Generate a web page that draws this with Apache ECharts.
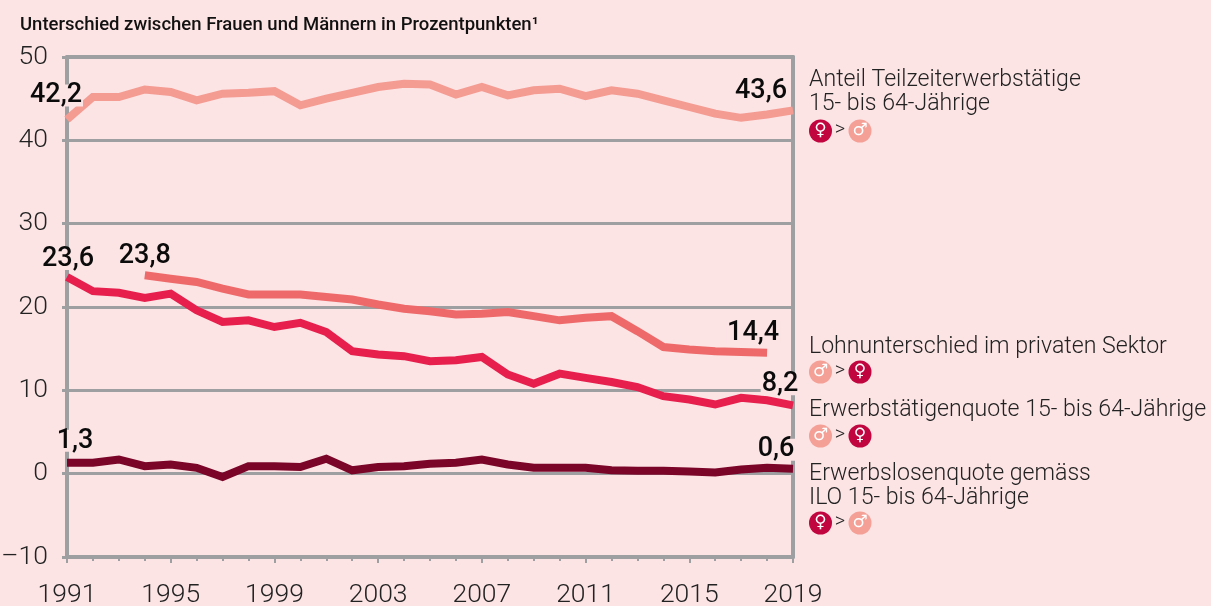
<!DOCTYPE html>
<html>
<head>
<meta charset="utf-8">
<title>Unterschied zwischen Frauen und Männern</title>
<script src="https://cdn.jsdelivr.net/npm/echarts@6/dist/echarts.min.js"></script>
<style>
    html, body { margin: 0; padding: 0; background: #fce3e4; }
    #container { width: 1211px; height: 606px; }
</style>
</head>
<body>
<div id="container"></div>
<script>
const years = ['1991','1992','1993','1994','1995','1996','1997','1998','1999','2000','2001','2002','2003','2004','2005','2006','2007','2008','2009','2010','2011','2012','2013','2014','2015','2016','2017','2018','2019'];

const teilzeit = [42.5,45.2,45.2,46.1,45.8,44.8,45.6,45.7,45.9,44.2,45.0,45.7,46.4,46.8,46.7,45.5,46.4,45.4,46.0,46.2,45.3,46.0,45.6,44.8,44.0,43.2,42.7,43.1,43.6];
const lohn = [null,null,null,23.8,23.4,23.0,22.2,21.5,21.5,21.5,21.2,20.9,20.3,19.8,19.5,19.1,19.2,19.4,18.9,18.4,18.7,18.9,17.1,15.2,14.9,14.7,14.6,14.5,null];
const erwerbstaetig = [23.6,21.9,21.7,21.1,21.6,19.6,18.2,18.4,17.6,18.1,17.0,14.7,14.3,14.1,13.5,13.6,14.0,11.9,10.8,12.0,11.5,11.0,10.4,9.3,8.9,8.3,9.1,8.8,8.2];
const erwerbslos = [1.3,1.3,1.7,0.9,1.1,0.7,-0.4,0.9,0.9,0.8,1.8,0.4,0.8,0.9,1.2,1.3,1.7,1.1,0.7,0.7,0.7,0.4,0.35,0.35,0.25,0.15,0.5,0.7,0.6];

const grey = '#9d9fa1';
const female = '#c1053f';
const male = '#f4a097';
const font = 'Roboto';

// value labels: [year index, text, dx, dy]
const teilzeitLabels = [[0, '42,2', -11, -24], [28, '43,6', -32, -19]];
const lohnLabels = [[3, '23,8', 0, -19], [27, '14,4', -14, -20]];
const erwerbstaetigLabels = [[0, '23,6', 1, -18], [28, '8,2', -13, -21]];
const erwerbslosLabels = [[0, '1,3', 8, -22], [28, '0,6', -17, -19]];

function points(values, labels) {
    return values.map((v, i) => {
        const l = labels.find(d => d[0] === i);
        if (!l) return v;
        return {
            value: v,
            label: {
                show: true,
                position: 'inside',
                formatter: l[1],
                offset: [l[2], l[3]],
                fontFamily: font,
                fontWeight: 500,
                fontSize: 27,
                lineHeight: 22,
                color: '#0b0b0b',
                backgroundColor: '#fce3e4',
                padding: [0, 1, 0, 1],
            },
        };
    });
}

function line(name, values, labels, color) {
    return {
        name: name,
        type: 'line',
        data: points(values, labels),
        symbol: 'circle',
        symbolSize: 0,
        showSymbol: true,
        showAllSymbol: true,
        connectNulls: false,
        silent: true,
        lineStyle: { color: color, width: 8, cap: 'butt', join: 'miter' },
        itemStyle: { color: color },
    };
}

function textLine(str, y) {
    return {
        type: 'text',
        left: 809,
        top: y - 12,
        style: { text: str, fontFamily: font, fontWeight: 300, fontSize: 23.1, lineHeight: 26, fill: '#222' },
    };
}

function badge(cx, cy, isFemale) {
    return [
        { type: 'circle', shape: { cx: cx, cy: cy, r: 11.5 }, style: { fill: isFemale ? female : male } },
        {
            type: 'text',
            x: cx,
            y: cy,
            style: {
                text: isFemale ? '♀' : '♂',
                fontFamily: 'DejaVu Sans',
                fontSize: 17,
                fill: '#fff',
                align: 'center',
                verticalAlign: 'middle',
            },
        },
    ];
}

function badgeRow(cy, femaleFirst) {
    return [
        ...badge(820.5, cy, femaleFirst),
        {
            type: 'text',
            x: 840,
            y: cy - 1,
            style: { text: '>', fontFamily: font, fontWeight: 300, fontSize: 20, fill: '#222', align: 'center', verticalAlign: 'middle' },
        },
        ...badge(860, cy, !femaleFirst),
    ];
}

const myChart = echarts.init(document.getElementById('container'));
const option = {
    backgroundColor: '#fce3e4',
    animation: false,
    title: {
        text: 'Unterschied zwischen Frauen und Männern in Prozentpunkten¹',
        left: 20,
        top: 16,
        padding: 0,
        textStyle: { fontFamily: font, fontWeight: 500, fontSize: 18.5, color: '#111' },
    },
    grid: { left: 67, right: 418, top: 57, height: 500, outerBoundsMode: 'none' },
    xAxis: [
        {
            type: 'category',
            data: years,
            boundaryGap: false,
            axisLine: { onZero: false, lineStyle: { color: grey, width: 4 } },
            axisTick: { interval: 3, length: 6, lineStyle: { color: grey, width: 2 } },
            axisLabel: {
                interval: 3,
                margin: 25,
                fontFamily: font,
                fontWeight: 300,
                fontSize: 26.5,
                color: '#222',
                hideOverlap: false,
            },
        },
        {
            type: 'category',
            data: years,
            boundaryGap: false,
            position: 'bottom',
            axisLine: { show: false, onZero: false },
            axisTick: { interval: 0, length: 4, lineStyle: { color: grey, width: 2 } },
            axisLabel: { show: false },
        },
        {
            type: 'category',
            data: years,
            boundaryGap: false,
            position: 'top',
            axisLine: { onZero: false, lineStyle: { color: grey, width: 4 } },
            axisTick: { show: false },
            axisLabel: { show: false },
        },
    ],
    yAxis: [
        {
            type: 'value',
            min: -10,
            max: 50,
            interval: 10,
            axisLine: { show: true, onZero: false, lineStyle: { color: grey, width: 4 } },
            axisTick: { show: true, length: 5, lineStyle: { color: grey, width: 3 } },
            axisLabel: {
                margin: 19,
                padding: [5, 0, 0, 0],
                fontFamily: font,
                fontWeight: 300,
                fontSize: 26.5,
                color: '#222',
                formatter: v => String(v).replace('-', '–'),
            },
            splitLine: { lineStyle: { color: grey, width: 3 } },
        },
        {
            type: 'value',
            min: -10,
            max: 50,
            interval: 10,
            position: 'right',
            axisLine: { show: true, onZero: false, lineStyle: { color: grey, width: 4 } },
            axisTick: { show: false },
            axisLabel: { show: false },
            splitLine: { show: false },
        },
    ],
    series: [
        line('Anteil Teilzeiterwerbstätige', teilzeit, teilzeitLabels, '#f49b92'),
        line('Lohnunterschied im privaten Sektor', lohn, lohnLabels, '#ee6a6a'),
        line('Erwerbstätigenquote', erwerbstaetig, erwerbstaetigLabels, '#e61f4d'),
        line('Erwerbslosenquote', erwerbslos, erwerbslosLabels, '#7a0528'),
    ],
    graphic: [
        textLine('Anteil Teilzeiterwerbstätige', 79),
        textLine('15- bis 64-Jährige', 103),
        ...badgeRow(131, true),
        textLine('Lohnunterschied im privaten Sektor', 346),
        ...badgeRow(372, false),
        textLine('Erwerbstätigenquote 15- bis 64-Jährige', 409),
        ...badgeRow(436, false),
        textLine('Erwerbslosenquote gemäss', 473),
        textLine('ILO 15- bis 64-Jährige', 497),
        ...badgeRow(523, true),
    ],
};
myChart.setOption(option);
window.addEventListener('resize', () => {
    myChart.resize()
})
</script>
</body>
</html>
